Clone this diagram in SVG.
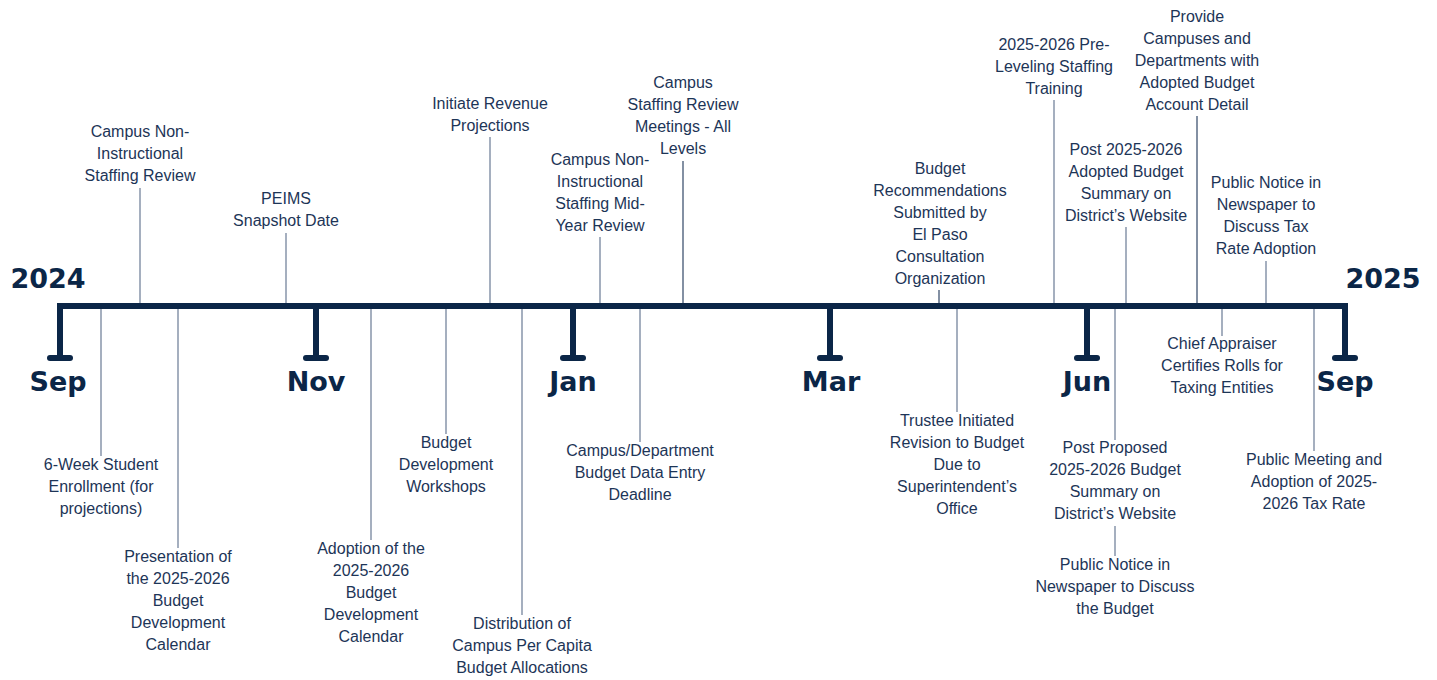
<svg xmlns="http://www.w3.org/2000/svg" width="1437" height="680" viewBox="0 0 1437 680">
<style>
.lbl{font-family:"Liberation Sans",Arial,sans-serif;font-size:16px;fill:#1d3557;text-anchor:middle}
.big{font-family:"DejaVu Sans",sans-serif;font-weight:bold;font-size:27px;fill:#0b2647;text-anchor:middle}
.con{stroke:#8795aa;stroke-width:1.5;fill:none}
.dk{stroke:#5a6b85}
.axis{stroke:#0b2647;stroke-width:6;fill:none}
.tick{stroke:#0b2647;stroke-width:6;fill:none;stroke-linecap:butt}
.bar{stroke:#0b2647;stroke-width:6;stroke-linecap:round}
</style>
<rect width="1437" height="680" fill="#ffffff"/>
<g id="connectors">
<line class="con" x1="140" y1="188" x2="140" y2="303"/>
<line class="con" x1="286" y1="233" x2="286" y2="303"/>
<line class="con" x1="490" y1="137" x2="490" y2="303"/>
<line class="con" x1="600" y1="237" x2="600" y2="303"/>
<line class="con dk" x1="683" y1="161" x2="683" y2="303"/>
<line class="con dk" x1="939" y1="290" x2="939" y2="303"/>
<line class="con" x1="1054" y1="100" x2="1054" y2="303"/>
<line class="con dk" x1="1197" y1="116" x2="1197" y2="303"/>
<line class="con" x1="1126" y1="227" x2="1126" y2="303"/>
<line class="con" x1="1266" y1="261" x2="1266" y2="303"/>
<line class="con" x1="101" y1="309" x2="101" y2="456"/>
<line class="con" x1="178" y1="309" x2="178" y2="548"/>
<line class="con" x1="371" y1="309" x2="371" y2="540"/>
<line class="con" x1="446" y1="309" x2="446" y2="434"/>
<line class="con" x1="522" y1="309" x2="522" y2="615"/>
<line class="con" x1="640" y1="309" x2="640" y2="442"/>
<line class="con" x1="957" y1="309" x2="957" y2="412"/>
<line class="con" x1="1115" y1="309" x2="1115" y2="440"/>
<line class="con" x1="1115" y1="526" x2="1115" y2="556"/>
<line class="con" x1="1222" y1="309" x2="1222" y2="336"/>
<line class="con" x1="1314" y1="309" x2="1314" y2="451"/>
</g>
<g id="timeline">
<path class="axis" d="M60 359 V306 H1345 V359"/>
<line class="tick" x1="316" y1="306" x2="316" y2="359"/>
<line class="tick" x1="573" y1="306" x2="573" y2="359"/>
<line class="tick" x1="830" y1="306" x2="830" y2="359"/>
<line class="tick" x1="1087" y1="306" x2="1087" y2="359"/>
<line class="bar" x1="50" y1="358" x2="70" y2="358"/>
<line class="bar" x1="306" y1="358" x2="326" y2="358"/>
<line class="bar" x1="563" y1="358" x2="583" y2="358"/>
<line class="bar" x1="820" y1="358" x2="840" y2="358"/>
<line class="bar" x1="1077" y1="358" x2="1097" y2="358"/>
<line class="bar" x1="1335" y1="358" x2="1355" y2="358"/>
</g>
<g id="years">
<text class="big" x="48" y="288">2024</text>
<text class="big" x="1383" y="288">2025</text>
</g>
<g id="months">
<text class="big" x="58" y="391">Sep</text>
<text class="big" x="316" y="391">Nov</text>
<text class="big" x="573" y="391">Jan</text>
<text class="big" x="831" y="391">Mar</text>
<text class="big" x="1087" y="391">Jun</text>
<text class="big" x="1345" y="391">Sep</text>
</g>
<g id="n1"><text class="lbl"><tspan x="140" y="137">Campus Non-</tspan><tspan x="140" y="159">Instructional</tspan><tspan x="140" y="181">Staffing Review</tspan></text></g>
<g id="n2"><text class="lbl"><tspan x="286" y="204">PEIMS</tspan><tspan x="286" y="226">Snapshot Date</tspan></text></g>
<g id="n3"><text class="lbl"><tspan x="490" y="109">Initiate Revenue</tspan><tspan x="490" y="131">Projections</tspan></text></g>
<g id="n4"><text class="lbl"><tspan x="600" y="165">Campus Non-</tspan><tspan x="600" y="187">Instructional</tspan><tspan x="600" y="209">Staffing Mid-</tspan><tspan x="600" y="231">Year Review</tspan></text></g>
<g id="n5"><text class="lbl"><tspan x="683" y="88">Campus</tspan><tspan x="683" y="110">Staffing Review</tspan><tspan x="683" y="132">Meetings - All</tspan><tspan x="683" y="154">Levels</tspan></text></g>
<g id="n6"><text class="lbl"><tspan x="940" y="174">Budget</tspan><tspan x="940" y="196">Recommendations</tspan><tspan x="940" y="218">Submitted by</tspan><tspan x="940" y="240">El Paso</tspan><tspan x="940" y="262">Consultation</tspan><tspan x="940" y="284">Organization</tspan></text></g>
<g id="n7"><text class="lbl"><tspan x="1054" y="50">2025-2026 Pre-</tspan><tspan x="1054" y="72">Leveling Staffing</tspan><tspan x="1054" y="94">Training</tspan></text></g>
<g id="n8"><text class="lbl"><tspan x="1197" y="22">Provide</tspan><tspan x="1197" y="44">Campuses and</tspan><tspan x="1197" y="66">Departments with</tspan><tspan x="1197" y="88">Adopted Budget</tspan><tspan x="1197" y="110">Account Detail</tspan></text></g>
<g id="n9"><text class="lbl"><tspan x="1126" y="155">Post 2025-2026</tspan><tspan x="1126" y="177">Adopted Budget</tspan><tspan x="1126" y="199">Summary on</tspan><tspan x="1126" y="221">District’s Website</tspan></text></g>
<g id="n10"><text class="lbl"><tspan x="1266" y="188">Public Notice in</tspan><tspan x="1266" y="210">Newspaper to</tspan><tspan x="1266" y="232">Discuss Tax</tspan><tspan x="1266" y="254">Rate Adoption</tspan></text></g>
<g id="n11"><text class="lbl"><tspan x="101" y="470">6-Week Student</tspan><tspan x="101" y="492">Enrollment (for</tspan><tspan x="101" y="514">projections)</tspan></text></g>
<g id="n12"><text class="lbl"><tspan x="178" y="562">Presentation of</tspan><tspan x="178" y="584">the 2025-2026</tspan><tspan x="178" y="606">Budget</tspan><tspan x="178" y="628">Development</tspan><tspan x="178" y="650">Calendar</tspan></text></g>
<g id="n13"><text class="lbl"><tspan x="371" y="554">Adoption of the</tspan><tspan x="371" y="576">2025-2026</tspan><tspan x="371" y="598">Budget</tspan><tspan x="371" y="620">Development</tspan><tspan x="371" y="642">Calendar</tspan></text></g>
<g id="n14"><text class="lbl"><tspan x="446" y="448">Budget</tspan><tspan x="446" y="470">Development</tspan><tspan x="446" y="492">Workshops</tspan></text></g>
<g id="n15"><text class="lbl"><tspan x="522" y="629">Distribution of</tspan><tspan x="522" y="651">Campus Per Capita</tspan><tspan x="522" y="673">Budget Allocations</tspan></text></g>
<g id="n16"><text class="lbl"><tspan x="640" y="456">Campus/Department</tspan><tspan x="640" y="478">Budget Data Entry</tspan><tspan x="640" y="500">Deadline</tspan></text></g>
<g id="n17"><text class="lbl"><tspan x="957" y="426">Trustee Initiated</tspan><tspan x="957" y="448">Revision to Budget</tspan><tspan x="957" y="470">Due to</tspan><tspan x="957" y="492">Superintendent’s</tspan><tspan x="957" y="514">Office</tspan></text></g>
<g id="n18"><text class="lbl"><tspan x="1115" y="453">Post Proposed</tspan><tspan x="1115" y="475">2025-2026 Budget</tspan><tspan x="1115" y="497">Summary on</tspan><tspan x="1115" y="519">District’s Website</tspan></text></g>
<g id="n19"><text class="lbl"><tspan x="1115" y="570">Public Notice in</tspan><tspan x="1115" y="592">Newspaper to Discuss</tspan><tspan x="1115" y="614">the Budget</tspan></text></g>
<g id="n20"><text class="lbl"><tspan x="1222" y="349">Chief Appraiser</tspan><tspan x="1222" y="371">Certifies Rolls for</tspan><tspan x="1222" y="393">Taxing Entities</tspan></text></g>
<g id="n21"><text class="lbl"><tspan x="1314" y="465">Public Meeting and</tspan><tspan x="1314" y="487">Adoption of 2025-</tspan><tspan x="1314" y="509">2026 Tax Rate</tspan></text></g>
</svg>
